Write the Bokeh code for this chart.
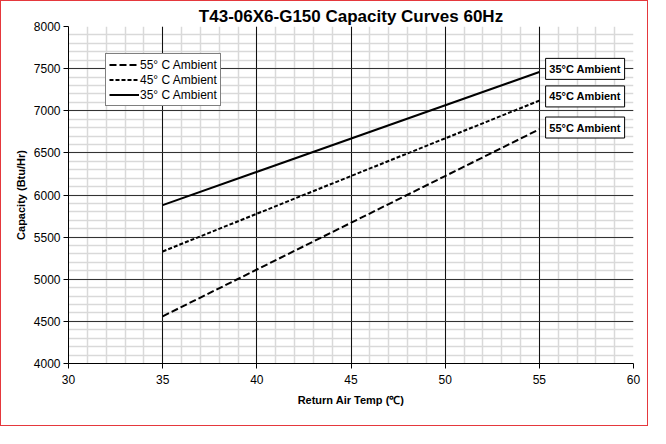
from bokeh.plotting import figure
from bokeh.models import Legend, LegendItem, FixedTicker, Range1d, Grid
from bokeh.embed import file_html
from bokeh.resources import INLINE
from bokeh.core.properties import value

# ---- data ----
temp = [35, 55]
cap_55 = [4560, 6780]
cap_45 = [5330, 7120]
cap_35 = [5880, 7460]

x_ticks = [30, 35, 40, 45, 50, 55, 60]
y_ticks = [4000, 4500, 5000, 5500, 6000, 6500, 7000, 7500, 8000]
x_minor = list(range(30, 61))
y_minor = list(range(4000, 8001, 100))

box_labels = ["35°C Ambient", "45°C Ambient", "55°C Ambient"]
box_y = [7497, 7170, 6801]
box_x = [57.43, 57.43, 57.43]

FONT = "Liberation Sans"

p = figure(width=648, height=426,
           x_range=Range1d(30, 60), y_range=Range1d(4000, 8000),
           output_backend="svg", toolbar_location=None,
           min_border_left=67, min_border_right=16,
           min_border_top=25, min_border_bottom=64,
           title="T43-06X6-G150 Capacity Curves 60Hz")
p.styles = {"border": "1px solid #e5383d"}

p.title.align = "center"
p.title.text_font = FONT
p.title.text_font_size = "17px"
p.title.text_font_style = "bold"
p.title.text_color = "black"
p.title.standoff = 2

p.outline_line_color = None
p.background_fill_color = "white"

xt = FixedTicker(ticks=x_ticks, minor_ticks=x_minor)
yt = FixedTicker(ticks=y_ticks, minor_ticks=y_minor)
p.xaxis.ticker = xt
p.yaxis.ticker = yt

for ax in (p.xaxis[0], p.yaxis[0]):
    ax.axis_line_color = "black"
    ax.axis_line_width = 1
    ax.major_tick_line_color = "black"
    ax.major_tick_out = 5
    ax.major_tick_in = 0
    ax.minor_tick_line_color = None
    ax.major_label_text_font = FONT
    ax.major_label_text_font_size = "12px"
    ax.major_label_text_color = "black"
    ax.axis_label_text_font = FONT
    ax.axis_label_text_font_size = "11px"
    ax.axis_label_text_font_style = "bold"
    ax.axis_label_text_color = "black"

p.xaxis.axis_label = "Return Air Temp (℃)"
p.yaxis.axis_label = "Capacity (Btu/Hr)"
p.xaxis.major_label_standoff = 6
p.yaxis.major_label_standoff = 3
p.xaxis.axis_label_standoff = 7
p.yaxis.axis_label_standoff = 4

# minor grid (underneath)
for g in (p.xgrid[0], p.ygrid[0]):
    g.grid_line_color = None
    g.minor_grid_line_color = "#d9d9d9"
    g.minor_grid_line_width = 1.5

# major grid (on top of minor grid)
p.add_layout(Grid(dimension=0, ticker=xt, grid_line_color="#111111", grid_line_width=1))
p.add_layout(Grid(dimension=1, ticker=yt, grid_line_color="#333333", grid_line_width=1))

r55 = p.line(temp, cap_55, line_color="black", line_width=2, line_dash="7 3")
r45 = p.line(temp, cap_45, line_color="black", line_width=2, line_dash="4 2")
r35 = p.line(temp, cap_35, line_color="black", line_width=2)

legend = Legend(items=[
    LegendItem(label="55° C Ambient", renderers=[r55]),
    LegendItem(label="45° C Ambient", renderers=[r45]),
    LegendItem(label="35° C Ambient", renderers=[r35]),
], location=(37, 257))
legend.border_line_color = "black"
legend.border_line_width = 1
legend.background_fill_color = "white"
legend.background_fill_alpha = 1
legend.label_text_font = FONT
legend.label_text_font_size = "12px"
legend.label_text_color = "black"
legend.glyph_width = 30
legend.glyph_height = 15
legend.label_height = 15
legend.label_standoff = 1
legend.spacing = 0
legend.padding = 3
legend.margin = 0
p.add_layout(legend, "center")

p.rect(x=box_x, y=box_y, width=79, height=21,
       width_units="screen", height_units="screen",
       fill_color="white", line_color="black", line_width=1)
p.text(x=box_x, y=box_y, text=box_labels,
       text_font=value(FONT), text_font_size="11px", text_font_style="bold",
       text_align="center", text_baseline="middle", text_color="black")

open("out.html", "w").write(file_html(p, INLINE))
